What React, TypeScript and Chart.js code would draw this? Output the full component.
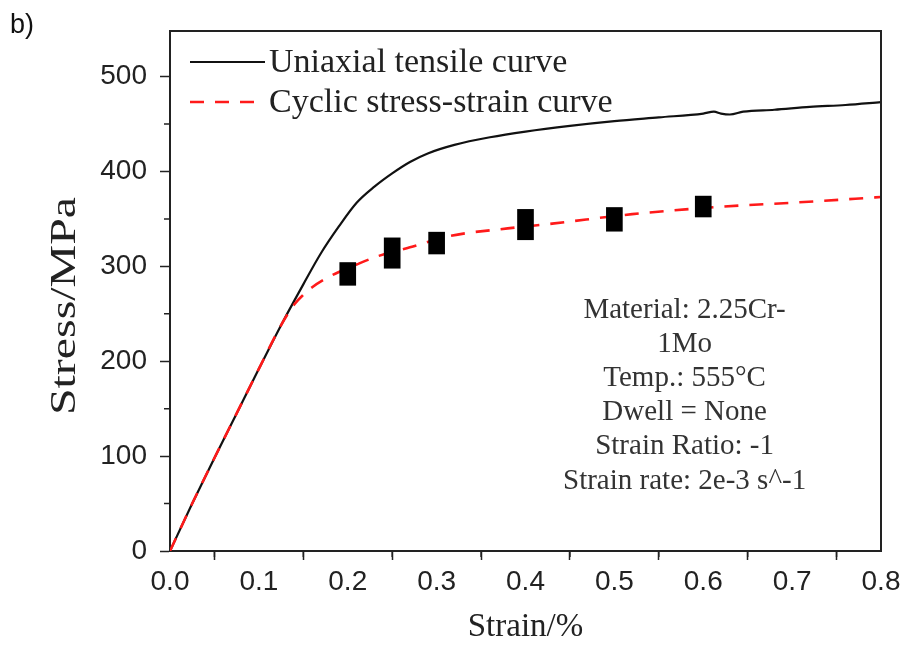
import React, { useEffect, useRef } from "react";
import { Chart, registerables } from "chart.js";

Chart.register(...registerables);

// ---- data ----
const tensileStrain = [0, 0.025, 0.05, 0.075, 0.1, 0.125, 0.15, 0.17, 0.19, 0.21, 0.23, 0.25, 0.27, 0.29, 0.32, 0.36, 0.4, 0.45, 0.5, 0.55, 0.6, 0.612, 0.62, 0.63, 0.645, 0.68, 0.72, 0.76, 0.8];
const tensileStress = [0, 50, 98, 145, 192, 238, 281, 314, 342, 367, 384, 398, 410, 419, 428, 436, 442, 448, 453, 457, 461, 463, 461, 460, 463, 465, 468, 470, 473];

const cyclicStrain = [0, 0.025, 0.05, 0.075, 0.1, 0.125, 0.14, 0.15, 0.16, 0.175, 0.19, 0.21, 0.235, 0.27, 0.315, 0.38, 0.43, 0.52, 0.58, 0.64, 0.7, 0.8];
const cyclicStress = [0, 50, 98, 145, 192, 238, 260, 270, 278, 287, 294, 302, 311, 320, 332, 340, 345, 355, 360, 364, 367, 373];

const testStrain = [0.2, 0.25, 0.3, 0.4, 0.5, 0.6];
const testLow = [280, 298, 313, 328, 337, 352];
const testHigh = [304, 330, 336, 360, 362, 374];

const xMinorTicks = [0.05, 0.15, 0.25, 0.35, 0.45, 0.55, 0.65, 0.75];
const yMinorTicks = [50, 150, 250, 350, 450];

const seriesLabels = ["Uniaxial tensile curve", "Cyclic stress-strain curve"];
const annotationLines = [
  "Material: 2.25Cr-",
  "1Mo",
  "Temp.: 555°C",
  "Dwell = None",
  "Strain Ratio: -1",
  "Strain rate: 2e-3 s^-1",
];
const panelLabel = "b)";
const xTitle = "Strain/%";
const yTitle = "Stress/MPa";

const SANS = "'Liberation Sans', Arial, sans-serif";
const SERIF = "'Liberation Serif', 'Times New Roman', serif";
const AXIS = "#222";

const overlayPlugin = {
  id: "overlay",
  afterDraw(chart: any) {
    const { ctx, chartArea: a, scales } = chart;
    const x = scales.x;
    const y = scales.y;
    ctx.save();
    // top & right frame
    ctx.strokeStyle = AXIS;
    ctx.lineWidth = 2;
    ctx.setLineDash([]);
    ctx.beginPath();
    ctx.moveTo(a.left, a.top);
    ctx.lineTo(a.right, a.top);
    ctx.lineTo(a.right, a.bottom);
    ctx.stroke();
    // minor ticks
    ctx.lineWidth = 1.5;
    ctx.beginPath();
    for (const v of xMinorTicks) {
      const px = x.getPixelForValue(v);
      ctx.moveTo(px, a.bottom);
      ctx.lineTo(px, a.bottom + 6);
    }
    for (const v of yMinorTicks) {
      const py = y.getPixelForValue(v);
      ctx.moveTo(a.left - 6, py);
      ctx.lineTo(a.left, py);
    }
    ctx.stroke();

    // legend
    const ds = chart.data.datasets;
    const lx0 = a.left + 20;
    const rows = [a.top + 31, a.top + 71];
    ctx.font = `34px ${SERIF}`;
    ctx.textBaseline = "middle";
    ctx.textAlign = "left";
    ctx.fillStyle = "#222";
    [0, 1].forEach((i) => {
      const d = ds[i];
      ctx.strokeStyle = d.borderColor;
      ctx.lineWidth = d.borderWidth;
      ctx.setLineDash(d.borderDash || []);
      ctx.beginPath();
      ctx.moveTo(lx0, rows[i]);
      ctx.lineTo(lx0 + 75, rows[i]);
      ctx.stroke();
      ctx.setLineDash([]);
      ctx.fillText(seriesLabels[i], lx0 + 79, rows[i] + 1);
    });

    // annotation
    ctx.font = `29px ${SERIF}`;
    ctx.fillStyle = "#333";
    ctx.textAlign = "center";
    ctx.textBaseline = "alphabetic";
    const cx = x.getPixelForValue(0.579);
    const by = y.getPixelForValue(246);
    annotationLines.forEach((t, i) => ctx.fillText(t, cx, by + i * 34.2));

    // y title (rotated)
    ctx.save();
    ctx.translate(66, (a.top + a.bottom) / 2 + 15);
    ctx.rotate(-Math.PI / 2);
    ctx.scale(1.33, 1);
    ctx.font = `36px ${SERIF}`;
    ctx.fillStyle = "#222";
    ctx.textAlign = "center";
    ctx.textBaseline = "middle";
    ctx.fillText(yTitle, 0, 0);
    ctx.restore();

    // panel label
    ctx.font = `27px ${SANS}`;
    ctx.fillStyle = "#111";
    ctx.textAlign = "left";
    ctx.fillText(panelLabel, 10, 33);
    ctx.restore();
  },
};

export default function App() {
  const ref = useRef<HTMLCanvasElement | null>(null);
  useEffect(() => {
    if (!ref.current) return;
    const chart = new Chart(ref.current, {
      type: "line",
      data: {
        datasets: [
          {
            type: "line",
            label: seriesLabels[0],
            data: tensileStrain.map((v, i) => ({ x: v, y: tensileStress[i] })),
            borderColor: "#111",
            borderWidth: 2.2,
            pointRadius: 0,
            cubicInterpolationMode: "monotone",
            order: 2,
          },
          {
            type: "line",
            label: seriesLabels[1],
            data: cyclicStrain.map((v, i) => ({ x: v, y: cyclicStress[i] })),
            borderColor: "#ff1a1a",
            borderWidth: 2.6,
            borderDash: [14, 11],
            pointRadius: 0,
            cubicInterpolationMode: "monotone",
            order: 1,
          },
          {
            type: "bar",
            label: "Test data",
            data: testStrain.map((v, i) => ({ x: v, y: [testLow[i], testHigh[i]] })),
            backgroundColor: "#000",
            borderWidth: 0,
            barThickness: 16,
            order: 0,
          } as any,
        ],
      },
      options: {
        animation: false,
        responsive: false,
        devicePixelRatio: 1,
        layout: { padding: { top: 31, right: 25, left: 0, bottom: 0 } },
        plugins: { legend: { display: false }, tooltip: { enabled: false } },
        scales: {
          x: {
            type: "linear",
            min: 0,
            max: 0.8,
            offset: false,
            afterFit: (s: any) => { s.height = 95; },
            ticks: {
              stepSize: 0.1,
              includeBounds: false,
              padding: 5,
              color: "#222",
              font: { family: SANS, size: 28 },
              callback: (v: any) => Number(v).toFixed(1),
            },
            grid: { display: true, drawOnChartArea: false, drawTicks: true, tickLength: 9, tickColor: AXIS, tickWidth: 1.5 },
            border: { display: true, color: AXIS, width: 2 },
            title: { display: true, text: xTitle, color: "#222", font: { family: SERIF, size: 33, lineHeight: 1 }, padding: { top: 0, bottom: 2 } },
          },
          y: {
            type: "linear",
            min: 0,
            max: 548,
            afterFit: (s: any) => { s.width = 170; },
            ticks: {
              stepSize: 100,
              includeBounds: false,
              padding: 13,
              color: "#222",
              font: { family: SANS, size: 28 },
            },
            grid: { display: true, drawOnChartArea: false, drawTicks: true, tickLength: 10, tickColor: AXIS, tickWidth: 1.5 },
            border: { display: true, color: AXIS, width: 2 },
            title: { display: false, text: yTitle },
          },
        },
      },
      plugins: [overlayPlugin],
    } as any);
    return () => chart.destroy();
  }, []);
  return (
    <div style={{ position: "fixed", left: 0, top: 0, width: 906, height: 646, background: "#fff" }}>
      <canvas ref={ref} width={906} height={646} style={{ width: 906, height: 646, display: "block" }} />
    </div>
  );
}
